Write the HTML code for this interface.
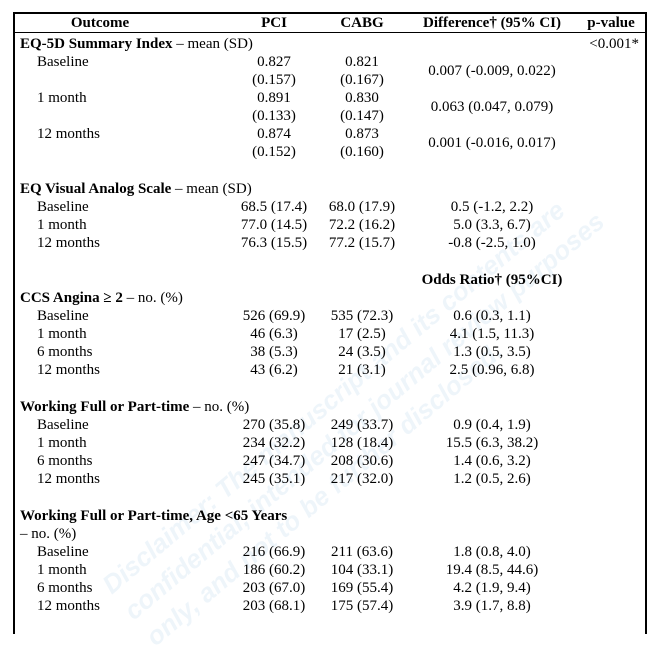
<!DOCTYPE html>
<html><head><meta charset="utf-8"><style>
body{margin:0;background:#fff;width:657px;height:617px;overflow:hidden;position:relative;font-family:"Liberation Serif",serif;font-size:15px;color:#000}
.t{position:absolute;line-height:18px;white-space:nowrap}
.c{transform:translateX(-50%)}
.r{transform:translateX(-100%)}
b{font-weight:bold}
.wm{position:absolute;left:95px;top:575px;transform:rotate(-40deg);transform-origin:left top;color:#dbe9f6;font-family:"Liberation Sans",sans-serif;font-weight:bold;font-size:26px;line-height:34px;font-style:italic;opacity:.45;white-space:nowrap}
</style></head><body>
<div class="wm">Disclaimer: The manuscript and its contents are<br>confidential, intended for journal review purposes<br>only, and not to be further disclosed.</div>
<div style="position:absolute;left:13px;top:12px;width:630px;height:620px;border:2px solid #000;border-bottom:none"></div>
<div style="position:absolute;left:13px;top:32px;width:632px;height:1px;background:#000"></div>
<div id="tbl"></div>
<script>
const rows=[
[23,'<b>Outcome</b>',-1,'','<b>PCI</b>','<b>CABG</b>','<b>Difference† (95% CI)</b>','<b>p-value</b>'],
[44,'<b>EQ-5D Summary Index</b> – mean (SD)',0,'','','','','<0.001*'],
[62,'Baseline',1,'','0.827','0.821','',''],
[80,'',1,'','(0.157)','(0.167)','',''],
[71,'',1,'','','','0.007 (-0.009, 0.022)',''],
[98,'1 month',1,'','0.891','0.830','',''],
[116,'',1,'','(0.133)','(0.147)','',''],
[107,'',1,'','','','0.063 (0.047, 0.079)',''],
[134,'12 months',1,'','0.874','0.873','',''],
[152,'',1,'','(0.152)','(0.160)','',''],
[143,'',1,'','','','0.001 (-0.016, 0.017)',''],
[189,'<b>EQ Visual Analog Scale</b> – mean (SD)',0,'','','','',''],
[207,'Baseline',1,'','68.5 (17.4)','68.0 (17.9)','0.5 (-1.2, 2.2)',''],
[225,'1 month',1,'','77.0 (14.5)','72.2 (16.2)','5.0 (3.3, 6.7)',''],
[243,'12 months',1,'','76.3 (15.5)','77.2 (15.7)','-0.8 (-2.5, 1.0)',''],
[280,'',1,'','','','<b>Odds Ratio† (95%CI)</b>',''],
[298,'<b>CCS Angina ≥ 2</b> – no. (%)',0,'','','','',''],
[316,'Baseline',1,'','526 (69.9)','535 (72.3)','0.6 (0.3, 1.1)',''],
[334,'1 month',1,'','46 (6.3)','17 (2.5)','4.1 (1.5, 11.3)',''],
[352,'6 months',1,'','38 (5.3)','24 (3.5)','1.3 (0.5, 3.5)',''],
[370,'12 months',1,'','43 (6.2)','21 (3.1)','2.5 (0.96, 6.8)',''],
[407,'<b>Working Full or Part-time</b> – no. (%)',0,'','','','',''],
[425,'Baseline',1,'','270 (35.8)','249 (33.7)','0.9 (0.4, 1.9)',''],
[443,'1 month',1,'','234 (32.2)','128 (18.4)','15.5 (6.3, 38.2)',''],
[461,'6 months',1,'','247 (34.7)','208 (30.6)','1.4 (0.6, 3.2)',''],
[479,'12 months',1,'','245 (35.1)','217 (32.0)','1.2 (0.5, 2.6)',''],
[516,'<b>Working Full or Part-time, Age &lt;65 Years</b>',0,'','','','',''],
[534,'– no. (%)',0,'','','','',''],
[552,'Baseline',1,'','216 (66.9)','211 (63.6)','1.8 (0.8, 4.0)',''],
[570,'1 month',1,'','186 (60.2)','104 (33.1)','19.4 (8.5, 44.6)',''],
[588,'6 months',1,'','203 (67.0)','169 (55.4)','4.2 (1.9, 9.4)',''],
[606,'12 months',1,'','203 (68.1)','175 (57.4)','3.9 (1.7, 8.8)','']
];
const tbl=document.getElementById('tbl');
function put(html,x,y,cls,name){
  if(!html)return;
  const d=document.createElement('div');
  d.className='t '+cls;
  d.style.left=x+'px';d.style.top=(y-9)+'px';
  d.innerHTML=html;
  
  
  tbl.appendChild(d);
}
rows.forEach(r=>{
  const [y,lab,ind,,pci,cabg,diff,p]=r;
  if(ind<0)put(lab,100,y,'c','outcome-header');
  else put(lab,ind?37:20,y,'','row-label');
  put(pci,274,y,'c','pci-value');
  put(cabg,362,y,'c','cabg-value');
  put(diff,492,y,'c','difference-value');
  if(ind<0)put(p,611,y,'c','p-value-header');else put(p,639,y,'r','p-value');
});
</script>
</body></html>
